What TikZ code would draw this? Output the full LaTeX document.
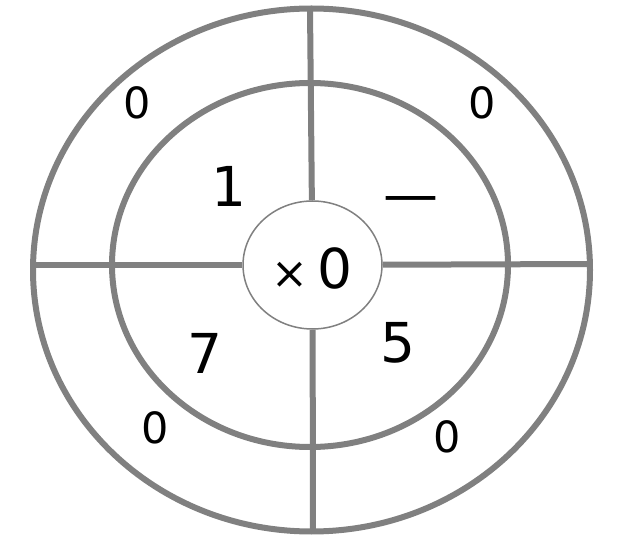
\documentclass[tikz,border=0pt]{standalone}
\usepackage{fontspec}
\setmainfont{DejaVu Sans}
\usetikzlibrary{shapes.geometric}

\definecolor{ring-grey}{HTML}{808080}
\tikzstyle{ring-line}=[ellipse, draw=ring-grey, line width=6pt, inner sep=0pt]
\tikzstyle{spoke}=[draw=ring-grey, line width=6pt]
\tikzstyle{outer-label}=[inner sep=0pt, font=\fontsize{43}{48}\selectfont]
\tikzstyle{inner-label}=[inner sep=0pt, font=\fontsize{55}{60}\selectfont]

\begin{document}
\begin{tikzpicture}[x=1pt, y=-1pt]
      \useasboundingbox (0, 0) rectangle (622, 556);
      \node (outer-ring) at (311.5, 270)
            [ring-line, minimum width=557pt, minimum height=523pt] {};
      \node (inner-ring) at (310, 265)
            [ring-line, minimum width=396pt, minimum height=364pt] {};
      \node (hub) at (312.5, 265)
            [ellipse, draw=ring-grey, line width=1.5pt, fill=white,
             minimum width=139pt, minimum height=128pt, inner sep=0pt] {};
      \coordinate (rim-north) at (310, 8);
      \coordinate (rim-south) at (313, 531);
      \coordinate (rim-west) at (33, 265);
      \coordinate (rim-east) at (590, 264);
      \draw[spoke] (hub) -- (rim-north);
      \draw[spoke] (hub) -- (rim-south);
      \draw[spoke] (hub) -- (rim-west);
      \draw[spoke] (hub) -- (rim-east);
      \node (hub-text) at (312, 268) [inner-label]
            {{\fontsize{44}{48}\selectfont ×}\,0};
      \node (outer-nw) at (137, 103) [outer-label] {0};
      \node (outer-ne) at (482, 103) [outer-label] {0};
      \node (outer-sw) at (155, 428) [outer-label] {0};
      \node (outer-se) at (447, 437) [outer-label] {0};
      \node (inner-nw) at (229, 186) [inner-label] {1};
      \node (inner-ne) at (411, 205) [inner-label] {—};
      \node (inner-sw) at (205, 353) [inner-label] {7};
      \node (inner-se) at (398, 343) [inner-label] {5};
\end{tikzpicture}
\end{document}
